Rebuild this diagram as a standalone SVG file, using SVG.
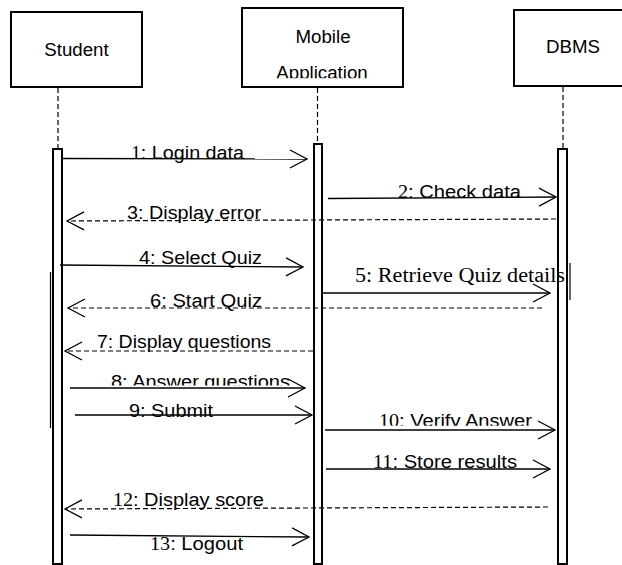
<svg xmlns="http://www.w3.org/2000/svg" width="622" height="565" viewBox="0 0 622 565">
<style>
.box{fill:#fff;stroke:#000;stroke-width:2}
.life{stroke:#000;stroke-width:1.2;stroke-dasharray:5,3;fill:none}
.bar{fill:#fff;stroke:#000;stroke-width:2}
.hdr{font-family:"Liberation Sans",Arial,sans-serif;font-size:18.7px;fill:#000;text-anchor:middle}
.lbl{font-family:"Liberation Sans",Arial,sans-serif;font-size:18px;fill:#000}
.num{font-family:"Liberation Serif","Times New Roman",serif}
.ser{font-family:"Liberation Serif","Times New Roman",serif;font-size:20px;fill:#000}
.msg{stroke:#000;stroke-width:1.3;fill:none;marker-end:url(#arr)}
.ret{stroke:#000;stroke-width:1.2;fill:none;stroke-dasharray:5,3;marker-end:url(#arr)}
.art{stroke:#000;stroke-width:1.2;fill:none}
</style>
<defs>
<marker id="arr" markerUnits="userSpaceOnUse" viewBox="-19 -11 21 22" markerWidth="21" markerHeight="22" refX="0" refY="0" orient="auto">
<path d="M -17 -9 L 0 0 L -17 9" fill="none" stroke="#000" stroke-width="1.3" stroke-dasharray="none"/>
</marker>
<clipPath id="clipApp"><rect x="240" y="0" width="170" height="78.3"/></clipPath>
<clipPath id="clip8"><rect x="0" y="360" width="622" height="25.5"/></clipPath>
<clipPath id="clip10"><rect x="0" y="400" width="622" height="25.8"/></clipPath>
</defs>

<g id="student">
<rect class="box" x="11" y="12" width="131" height="75"/>
<text class="hdr" x="76.5" y="56">Student</text>
<line class="life" x1="58" y1="88" x2="58" y2="148"/>
<rect class="bar" x="53" y="149" width="9" height="415"/>
<line class="art" x1="50.5" y1="272" x2="50.5" y2="428"/>
</g>

<g id="mobile">
<rect class="box" x="242" y="8" width="161" height="79"/>
<text class="hdr" x="323" y="43">Mobile</text>
<text class="hdr" x="322" y="78.5" clip-path="url(#clipApp)">Application</text>
<line class="life" x1="317.5" y1="88" x2="317.5" y2="143"/>
<rect class="bar" x="314" y="144" width="8" height="420"/>
</g>

<g id="dbms">
<rect class="box" x="514" y="10" width="112" height="76"/>
<text class="hdr" x="573" y="53">DBMS</text>
<line class="life" x1="563" y1="87" x2="563" y2="148"/>
<rect class="bar" x="558" y="149" width="9" height="415"/>
<line class="art" x1="570" y1="263" x2="570" y2="300"/>
</g>

<g id="connectors">
<line class="msg" x1="63" y1="158.5" x2="307" y2="159"/>
<text class="lbl" x="131" y="158.5" textLength="113" lengthAdjust="spacingAndGlyphs"><tspan class="num">1</tspan>: Login data</text>

<line class="msg" x1="328" y1="198.5" x2="556" y2="197"/>
<text class="lbl" x="398" y="197.5" textLength="123" lengthAdjust="spacingAndGlyphs"><tspan class="num">2</tspan>: Check data</text>

<line class="ret" x1="556" y1="219" x2="67" y2="221"/>
<text class="lbl" x="127" y="219" textLength="134" lengthAdjust="spacingAndGlyphs">3: Display error</text>

<line class="msg" x1="60" y1="265" x2="303" y2="267"/>
<text class="lbl" x="139" y="264" textLength="123" lengthAdjust="spacingAndGlyphs">4: Select Quiz</text>

<line class="msg" x1="323" y1="293" x2="550" y2="293"/>
<text class="ser" x="355" y="282" textLength="210" lengthAdjust="spacingAndGlyphs">5: Retrieve Quiz details</text>

<line class="ret" x1="542" y1="308" x2="68" y2="308"/>
<text class="lbl" x="150" y="307" textLength="112" lengthAdjust="spacingAndGlyphs">6: Start Quiz</text>

<line class="ret" x1="313" y1="351" x2="65" y2="351"/>
<text class="lbl" x="97" y="348" textLength="174" lengthAdjust="spacingAndGlyphs">7: Display questions</text>

<line class="msg" x1="70" y1="388" x2="305" y2="388"/>
<text class="lbl" x="111" y="388" textLength="179" lengthAdjust="spacingAndGlyphs" clip-path="url(#clip8)">8: Answer questions</text>

<line class="msg" x1="75" y1="415" x2="312" y2="415"/>
<text class="lbl" x="129" y="417" textLength="84" lengthAdjust="spacingAndGlyphs">9: Submit</text>

<line class="msg" x1="325" y1="430" x2="555" y2="430"/>
<text class="lbl" x="379" y="427" textLength="153" lengthAdjust="spacingAndGlyphs" clip-path="url(#clip10)"><tspan class="num">10</tspan>: Verify Answer</text>

<line class="msg" x1="326" y1="469" x2="550" y2="469"/>
<text class="lbl" x="373" y="468" textLength="144" lengthAdjust="spacingAndGlyphs"><tspan class="num">11</tspan>: Store results</text>

<line class="ret" x1="548" y1="507" x2="65" y2="509"/>
<text class="lbl" x="113" y="506" textLength="151" lengthAdjust="spacingAndGlyphs"><tspan class="num">12</tspan>: Display score</text>

<line class="msg" x1="70" y1="535" x2="309" y2="537"/>
<text class="lbl" x="150" y="550" textLength="93" lengthAdjust="spacingAndGlyphs"><tspan class="num">13</tspan>: Logout</text>
</g>
</svg>
